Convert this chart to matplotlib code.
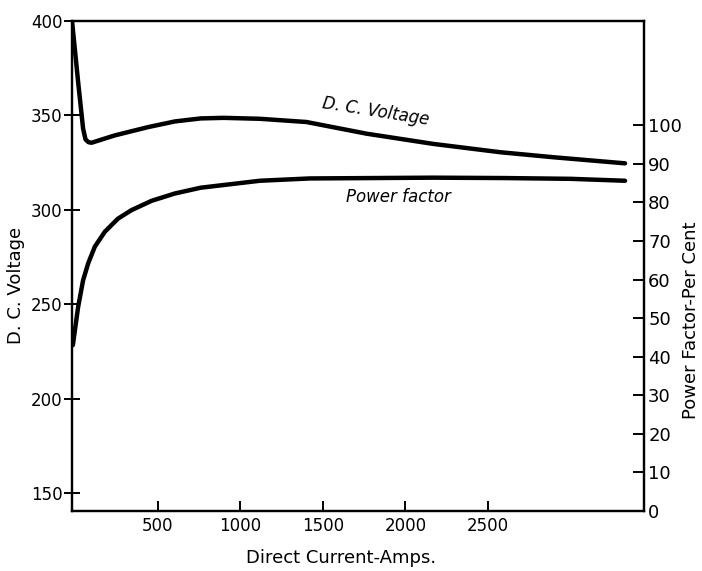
import matplotlib
matplotlib.use('Agg')
import matplotlib.pyplot as plt
import numpy as np

# D.C. voltage curve (left axis)
amps_v = [-20, 17, 47, 62, 80, 98, 239, 441, 603, 760, 900, 1118, 1400, 1765, 2168, 2573, 2900, 3330]
volts = [400, 367.7, 343, 337.2, 335.8, 335.5, 339.4, 343.8, 346.8, 348.4, 348.7, 348.2, 346.5, 340.3, 334.9, 330.5, 327.8, 324.6]

# power factor curve (right axis, per cent)
amps_pf = [-15, 17, 47, 78, 118, 179, 259, 341, 462, 603, 760, 1118, 1421, 1800, 2168, 2600, 3000, 3330]
pf = [43.0, 52.9, 59.8, 64.2, 68.5, 72.4, 75.8, 78.0, 80.4, 82.3, 83.8, 85.6, 86.2, 86.3, 86.4, 86.3, 86.1, 85.6]

x_ticks = [500, 1000, 1500, 2000, 2500]
v_ticks = [150, 200, 250, 300, 350, 400]
pf_ticks = [0, 10, 20, 30, 40, 50, 60, 70, 80, 90, 100]

plt.rcParams['font.family'] = ['DejaVu Sans']
fig = plt.figure(figsize=(7.02, 5.71), dpi=100)
ax = fig.add_axes([0.1026, 0.105, 0.8148, 0.8582])
ax2 = ax.twinx()

ax.plot(amps_v, volts, color='black', lw=3.2, solid_capstyle='round', solid_joinstyle='round')
ax2.plot(amps_pf, pf, color='black', lw=3.2, solid_capstyle='round', solid_joinstyle='round')

ax.set_xlim(-20, 3445)
ax.set_ylim(140.4, 400)
ax2.set_ylim(0, 127)

ax.set_xticks(x_ticks)
ax.set_yticks(v_ticks)
ax2.set_yticks(pf_ticks)

for a in (ax, ax2):
    for s in a.spines.values():
        s.set_linewidth(1.6)

ax.tick_params(axis='y', direction='inout', length=12, width=1.4, labelsize=12, pad=1)
ax.tick_params(axis='x', direction='in', length=7, width=1.4, labelsize=12, pad=4)
ax2.tick_params(axis='y', direction='in', length=8, width=1.4, labelsize=13, pad=3)

ax.set_xlabel('Direct Current-Amps.', fontsize=13)
ax.xaxis.set_label_coords(0.47, -0.077)
ax.set_ylabel('D. C. Voltage', fontsize=13)
ax.yaxis.set_label_coords(-0.083, 0.46)
ax2.set_ylabel('Power Factor-Per Cent', fontsize=13)
ax2.yaxis.set_label_coords(1.066, 0.39)

ax.text(1820, 352, 'D. C. Voltage', fontsize=12, style='italic', rotation=-9,
        ha='center', va='center')
ax2.text(1960, 81.5, 'Power factor', fontsize=12, style='italic',
         ha='center', va='center')

fig.savefig('out.png', dpi=100)
